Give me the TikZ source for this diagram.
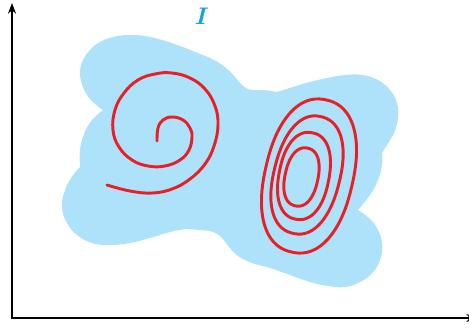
\documentclass[tikz,border=0pt]{standalone}
\usepackage{xcolor}
\usepackage{tikz}
\usetikzlibrary{arrows.meta}
\definecolor{regioncol}{RGB}{174,226,250}
\definecolor{curvecol}{RGB}{232,32,38}
\definecolor{labelcol}{RGB}{20,158,236}
\tikzset{
  axis/.style={-{Stealth[length=8pt,width=6pt]},line width=1.3pt},
  region/.style={fill=regioncol,draw=none},
  orbit/.style={draw=curvecol,line width=2.2pt,line cap=round,line join=round},
  setlabel/.style={text=labelcol,font=\fontsize{18}{20}\selectfont\bfseries\itshape,inner sep=0pt}
}
% closed loop: centre x, centre y, half height, half width, tilt
\newcommand{\orbitring}[5]{%
  \draw[orbit] plot[smooth cycle,domain=2.5:357.5,samples=72,variable=\t]
    ({#1+(#4*cos(\t)*abs(cos(\t))^(-0.12))*cos(#5)-(#3*sin(\t)*abs(sin(\t))^(-0.12))*sin(#5)},
     {#2+(#4*cos(\t)*abs(cos(\t))^(-0.12))*sin(#5)+(#3*sin(\t)*abs(sin(\t))^(-0.12))*cos(#5)});
}

\begin{document}
\begin{tikzpicture}[x=0.75pt,y=-0.75pt]
  \useasboundingbox (0,0) rectangle (469,329);
  \begin{scope}
  \clip (0,0) rectangle (469,329);

  % region
  \fill[region] plot[smooth,tension=0.7] coordinates {(103,110) (95,104) (87,95) (82,84)
      (80,72) (83,60) (90,50) (100,42) (113,37) (128,35) (145,36) (162,40) (180,46)
      (198,53) (214,60) (226,68) (235,77) (242,85) (251,90) (263,90) (277,92)}
    -- plot[smooth,tension=0.7] coordinates {(277,92) (293,87) (310,82) (327,78) (345,75)
      (362,75) (378,80) (390,90) (397,103) (398,118) (394,133) (387,145) (382,153)}
    -- plot[smooth,tension=0.7] coordinates {(382,153) (382,165) (378,180) (370,195)
      (358,210)}
    -- plot[smooth,tension=0.7] coordinates {(358,210) (370,219) (378,230) (382,243)
      (381,257) (374,271) (362,281) (346,287) (328,286) (310,282) (290,275) (270,268)
      (252,263) (238,256) (229,247) (222,238) (213,232) (200,230) (185,229)}
    -- plot[smooth,tension=0.7] coordinates {(185,229) (170,232) (150,238) (130,243)
      (110,245) (92,243) (77,235) (67,223) (62,208) (64,193) (71,178) (80,167)}
    -- plot[smooth,tension=0.7] coordinates {(80,167) (80,150) (84,134) (92,120)
      (103,110)} -- cycle;

  % spiral
  \draw[orbit] plot[smooth,tension=0.7] coordinates {(157,141) (158,128) (163,120)
    (172,117) (183,120) (190,128) (192,137) (189,150) (180,160) (165,166) (148,166)
    (132,160) (119,147) (113,130) (115,110) (124,93) (138,80) (155,74) (172,73)
    (190,78) (205,89) (215,106) (218,125) (214,146) (205,164) (190,179) (172,189)
    (152,193) (130,191) (107,185)};

  % nested loops
  \orbitring{309}{176}{78}{44}{13}
  \orbitring{307}{175}{60}{33}{14}
  \orbitring{304}{176}{44}{25}{11}
  \orbitring{301.5}{177}{29.5}{16.5}{12}

  % axes
  \coordinate (origin) at (12,318);
  \coordinate (ytip) at (12,3);
  \coordinate (xtip) at (477,318);
  \draw[axis,line cap=rect] (origin) -- (ytip);
  \draw[axis,line cap=rect] (origin) -- (xtip);
  \end{scope}

  \node[setlabel] (lbl) at (200,16) {I};
\end{tikzpicture}
\end{document}
